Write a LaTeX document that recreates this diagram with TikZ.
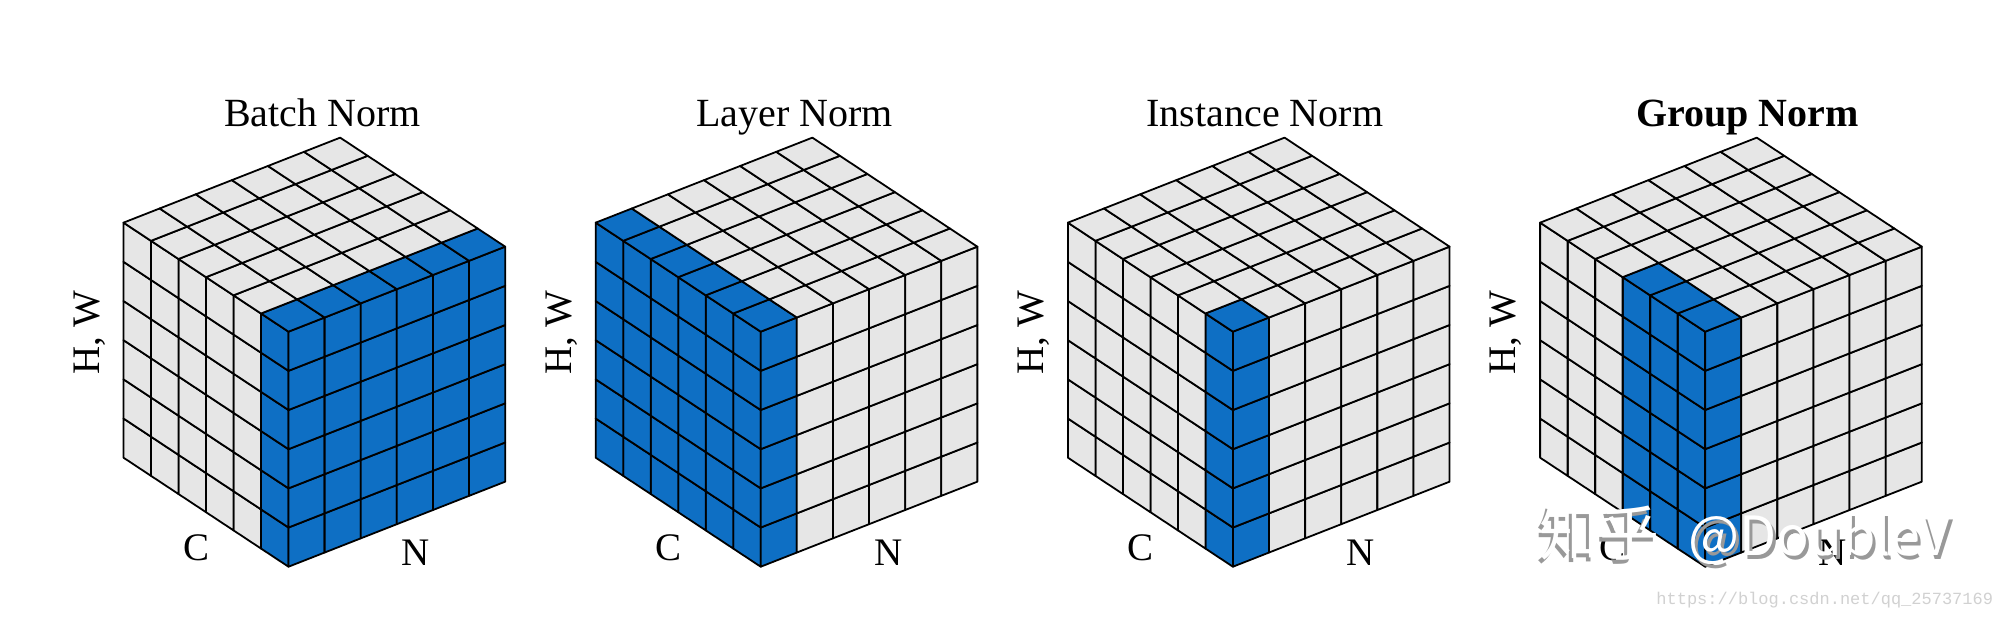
\documentclass[tikz,border=0pt]{standalone}
\usepackage{fontspec}
\setmainfont{Liberation Serif}
\newfontfamily\cjkfont{Noto Sans CJK SC}
\newfontfamily\urlfont{Liberation Mono}
\definecolor{gnblue}{HTML}{0E6FC4}
\definecolor{gngrey}{HTML}{E6E6E6}
\tikzset{
  cubecell/.style={draw=black, line width=0.9pt, line join=round},
  titlelab/.style={font=\fontsize{20}{24}\selectfont, inner sep=0pt, anchor=base},
  axlab/.style={font=\fontsize{19.5}{23}\selectfont, inner sep=0pt},
  wmark/.style={font=\cjkfont\fontsize{27}{32}\selectfont, inner sep=0pt, anchor=base west},
}
% #1 = x of front-bottom vertex (px), #2 = last blue C index, #3 = last blue N index
\newcommand\normcube[3]{%
  \begin{scope}[shift={(#1,566.7)}, x={(-13.75pt,9.085pt)}, y={(18.055pt,7.085pt)}, z={(0pt,19.585pt)}]
    % left face (C x H)
    \foreach \i in {0,...,5}{\foreach \j in {0,...,5}{%
      \ifnum\i>#2\relax\def\fc{gngrey}\else\def\fc{gnblue}\fi
      \filldraw[cubecell, fill=\fc] (\i,0,\j) -- ({\i+1},0,\j) -- ({\i+1},0,{\j+1}) -- (\i,0,{\j+1}) -- cycle;
    }}
    % right face (N x H)
    \foreach \k in {0,...,5}{\foreach \j in {0,...,5}{%
      \ifnum\k>#3\relax\def\fc{gngrey}\else\def\fc{gnblue}\fi
      \filldraw[cubecell, fill=\fc] (0,\k,\j) -- (0,{\k+1},\j) -- (0,{\k+1},{\j+1}) -- (0,\k,{\j+1}) -- cycle;
    }}
    % top face (C x N)
    \foreach \i in {0,...,5}{\foreach \k in {0,...,5}{%
      \def\fc{gnblue}%
      \ifnum\i>#2\relax\def\fc{gngrey}\fi
      \ifnum\k>#3\relax\def\fc{gngrey}\fi
      \filldraw[cubecell, fill=\fc] (\i,\k,6) -- ({\i+1},\k,6) -- ({\i+1},{\k+1},6) -- (\i,{\k+1},6) -- cycle;
    }}
  \end{scope}}

\begin{document}
\begin{tikzpicture}[x=0.5pt, y=-0.5pt]
  \useasboundingbox[fill=white] (0,0) rectangle (2000,621);

  \normcube{288.5}{0}{5}
  \normcube{760.7}{5}{0}
  \normcube{1232.9}{0}{0}
  \normcube{1705.1}{2}{0}

  \node[titlelab] (t1) at (322.5,126) {Batch Norm};
  \node[titlelab] (t2) at (794.5,126) {Layer Norm};
  \node[titlelab] (t3) at (1264.8,126) {Instance Norm};
  \node[titlelab, font=\fontsize{20}{24}\selectfont\bfseries] (t4) at (1747.5,126) {Group Norm};

  \foreach \q in {0,1,2,3}{
    \node[axlab, rotate=90] (hw\q) at ({89.5+472.2*\q},332.5) {H, W};
    \node[axlab, anchor=base] (c\q) at ({196.3+472.2*\q},560) {C};
    \node[axlab, anchor=base] (n\q) at ({416+472.2*\q},565) {N};
  }

  % watermark
  \node[wmark, font=\cjkfont\fontsize{30}{34}\selectfont, text=black!40] (wms1) at (1536,559) {知乎};
  \node[wmark, font=\cjkfont\fontsize{30}{34}\selectfont, text=white] (wm1) at (1539,555) {知乎};
  \node[wmark, text=black!40] (wms2) at (1691,559) {@DoubleV};
  \node[wmark, text=white] (wm2) at (1688,555) {@DoubleV};
  \node[inner sep=0pt, anchor=base west, font=\urlfont\fontsize{8.5}{10}\selectfont, text=black!18] (url) at (1656,604) {https://blog.csdn.net/qq\_25737169};
\end{tikzpicture}
\end{document}
